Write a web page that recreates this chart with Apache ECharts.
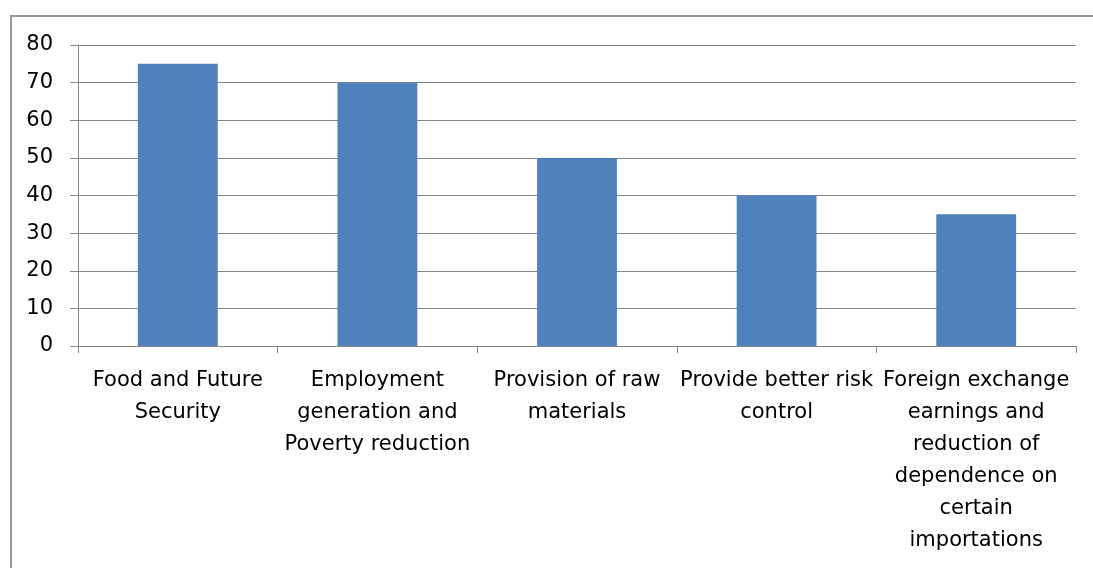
<!DOCTYPE html>
<html>
<head>
<meta charset="utf-8">
<script src="https://cdn.jsdelivr.net/npm/echarts@6/dist/echarts.min.js"></script>
<style>
html,body{margin:0;padding:0;background:#fff;}
#c{width:1093px;height:568px;}
</style>
</head>
<body>
<div id="c"></div>
<script>
var categories = [
  "Food and Future\nSecurity",
  "Employment\ngeneration and\nPoverty reduction",
  "Provision of raw\nmaterials",
  "Provide better risk\ncontrol",
  "Foreign exchange\nearnings and\nreduction of\ndependence on\ncertain\nimportations"
];
var values = [75, 70, 50, 40, 35];
var yTicks = [0, 10, 20, 30, 40, 50, 60, 70, 80];

var chart = echarts.init(document.getElementById('c'));
var font = "'DejaVu Sans', sans-serif";
chart.setOption({
  animation: false,
  backgroundColor: '#fff',
  graphic: [{
    type: 'rect',
    shape: {x: 11, y: 16, width: 1200, height: 700},
    style: {fill: 'none', stroke: '#9a9a9a', lineWidth: 2},
    silent: true
  }],
  grid: {left: 78, right: 17, top: 45, bottom: 222, containLabel: false},
  xAxis: {
    type: 'category',
    data: categories,
    axisLine: {lineStyle: {color: '#868686', width: 1}},
    axisTick: {show: true, alignWithLabel: false, length: 7, lineStyle: {color: '#868686'}},
    axisLabel: {
      interval: 0,
      color: '#000',
      fontSize: 21,
      fontFamily: font,
      lineHeight: 32,
      margin: 19,
      align: 'center'
    }
  },
  yAxis: {
    type: 'value',
    min: yTicks[0],
    max: yTicks[yTicks.length - 1],
    interval: 10,
    axisLine: {show: true, lineStyle: {color: '#868686', width: 1}},
    axisTick: {show: true, length: 8, lineStyle: {color: '#868686'}},
    axisLabel: {color: '#000', fontSize: 21, fontFamily: font, margin: 25},
    splitLine: {lineStyle: {color: '#868686', width: 1}}
  },
  series: [{
    type: 'bar',
    data: values,
    barWidth: '40%',
    itemStyle: {color: '#4f81bd'}
  }]
});
</script>
</body>
</html>
